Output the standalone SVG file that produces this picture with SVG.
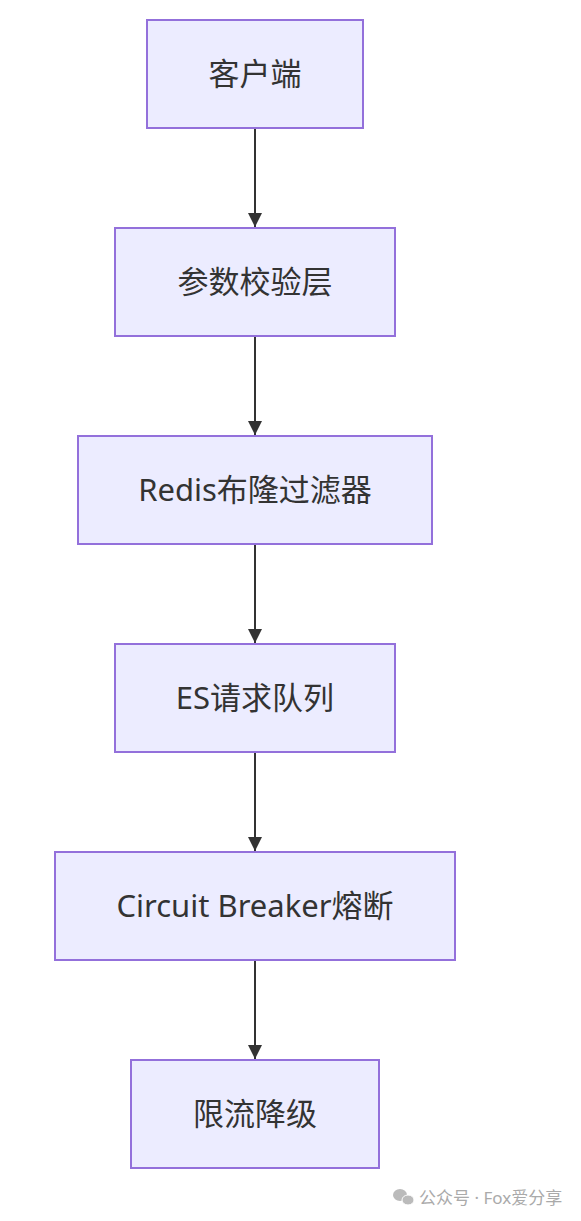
<svg xmlns="http://www.w3.org/2000/svg" width="581" height="1221" viewBox="0 0 581 1221">
<style>
.node rect{fill:#ECECFF;stroke:#9370DB;stroke-width:2}
.node text{font-family:"Noto Sans","Noto Sans CJK SC",sans-serif;font-size:31px;fill:#333;text-anchor:middle;dominant-baseline:central}
.edge{stroke:#333;stroke-width:2;fill:none}
.wm{font-family:"Noto Sans","Noto Sans CJK SC",sans-serif;font-size:17px;fill:#aaa}
</style>
<defs>
<marker id="arr" viewBox="0 0 10 10" refX="10" refY="5" markerWidth="7" markerHeight="7" markerUnits="strokeWidth" orient="auto">
<path d="M0,0 L10,5 L0,10 z" fill="#333"/>
</marker>
</defs>
<rect width="581" height="1221" fill="#fff"/>
<g id="connectors">
<line class="edge" x1="255" y1="128" x2="255" y2="227" marker-end="url(#arr)"/>
<line class="edge" x1="255" y1="336" x2="255" y2="435" marker-end="url(#arr)"/>
<line class="edge" x1="255" y1="544" x2="255" y2="643" marker-end="url(#arr)"/>
<line class="edge" x1="255" y1="752" x2="255" y2="851" marker-end="url(#arr)"/>
<line class="edge" x1="255" y1="960" x2="255" y2="1059" marker-end="url(#arr)"/>
</g>
<g id="n1" class="node"><rect x="147" y="20" width="216" height="108"/><text x="255" y="73">客户端</text></g>
<g id="n2" class="node"><rect x="115" y="228" width="280" height="108"/><text x="255" y="281">参数校验层</text></g>
<g id="n3" class="node"><rect x="78" y="436" width="354" height="108"/><text x="255" y="489">Redis布隆过滤器</text></g>
<g id="n4" class="node"><rect x="115" y="644" width="280" height="108"/><text x="255" y="697">ES请求队列</text></g>
<g id="n5" class="node"><rect x="55" y="852" width="400" height="108"/><text x="255" y="905">Circuit Breaker熔断</text></g>
<g id="n6" class="node"><rect x="131" y="1060" width="248" height="108"/><text x="255" y="1113">限流降级</text></g>
<g id="watermark">
<ellipse cx="400" cy="1195" rx="7" ry="6" fill="#bbb"/>
<ellipse cx="408" cy="1200" rx="6" ry="5" fill="#bbb" stroke="#fff" stroke-width="1"/>
<text class="wm" x="419" y="1204">公众号 · Fox爱分享</text>
</g>
</svg>
